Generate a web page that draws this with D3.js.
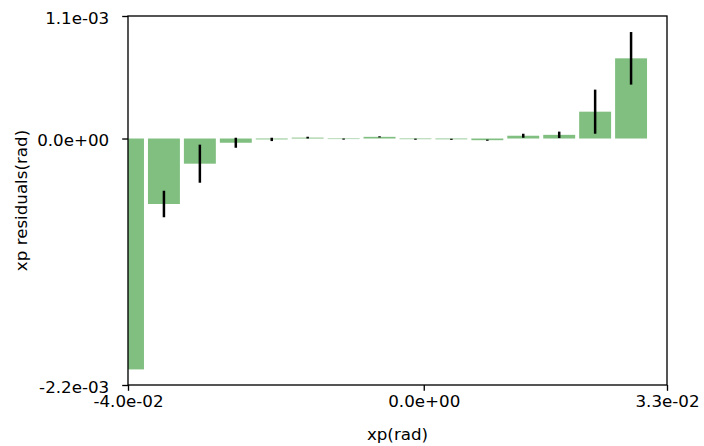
<!DOCTYPE html>
<html><head><meta charset="utf-8">
<script src="https://cdn.jsdelivr.net/npm/d3@7"></script>
<style>body{margin:0;background:#fff}svg{display:block}text{font-family:"DejaVu Sans",sans-serif;fill:#000}</style>
</head><body>
<svg id="c" width="704" height="446"></svg>
<script>
// bin centers (rad)
const xCenters = [-0.04000,-0.03514,-0.03028,-0.02542,-0.02056,-0.01570,-0.01084,-0.00598,-0.00112,0.00374,0.00860,0.01346,0.01832,0.02318,0.02804];
// residual means (rad)
const residuals = [-2.073e-3,-5.88e-4,-2.26e-4,-3.8e-5,-8e-6,8e-6,-5e-6,1.5e-5,-6e-6,-7e-6,-1.5e-5,2.5e-5,3.3e-5,2.41e-4,7.2e-4];
// error bar half-heights (rad)
const errors = [0,1.19e-4,1.71e-4,4.5e-5,1.5e-5,8e-6,5e-6,5e-6,5e-6,5e-6,5e-6,1.8e-5,2.9e-5,1.98e-4,2.36e-4];
const binWidth = 0.00432;
const xTicks = [-0.04, 0, 0.0329];
const yTicks = [-0.002213, 0, 0.0011];
const xDomain = [-0.04, 0.0329];
const yDomain = [-0.002213, 0.0011];

const L=128,R=667,T=16,B=385;
const svg=d3.select("#c");
const x=d3.scaleLinear().domain(xDomain).range([L,R]);
const y=d3.scaleLinear().domain(yDomain).range([B,T]);
const fmt=v=>{ if(v===0) return "0.0e+00"; const s=d3.format(".1e")(v).replace(/\u2212/g,"-"); return s.replace(/e([+-])(\d)$/,"e$10$2"); };
const fs=16.7;

svg.append("defs").append("clipPath").attr("id","pa").append("rect").attr("x",L).attr("y",T).attr("width",R-L).attr("height",B-T);
const g=svg.append("g").attr("clip-path","url(#pa)");
const data=xCenters.map((c,i)=>({c,v:residuals[i],e:errors[i]}));
g.selectAll("rect.bar").data(data).join("rect").attr("class","bar")
 .attr("x",d=>x(d.c-binWidth/2)).attr("width",d=>x(d.c+binWidth/2)-x(d.c-binWidth/2))
 .attr("y",d=>Math.min(y(0),y(d.v))).attr("height",d=>Math.abs(y(d.v)-y(0)))
 .attr("fill","rgb(128,191,128)");
g.selectAll("line.err").data(data.filter(d=>d.e>0)).join("line").attr("class","err")
 .attr("x1",d=>x(d.c)).attr("x2",d=>x(d.c)).attr("y1",d=>y(d.v-d.e)).attr("y2",d=>y(d.v+d.e))
 .attr("stroke","#000").attr("stroke-width",2.5);

const xAxis=svg.append("g").attr("transform",`translate(0,${B})`)
 .call(d3.axisBottom(x).tickValues(xTicks).tickFormat(fmt).tickSize(5.8).tickPadding(5.8));
const yAxis=svg.append("g").attr("transform",`translate(${L},0)`)
 .call(d3.axisLeft(y).tickValues(yTicks).tickFormat(fmt).tickSize(5.8).tickPadding(13));
[xAxis,yAxis].forEach(a=>{a.select(".domain").remove();a.selectAll("line").attr("stroke","#000").attr("stroke-width",1.33);a.selectAll("text").attr("font-size",fs).attr("font-family","DejaVu Sans");});
yAxis.selectAll("text").attr("dy","0.42em");
xAxis.selectAll("text").attr("dy","0.71em").attr("y",10);
svg.append("rect").attr("x",L).attr("y",T).attr("width",R-L).attr("height",B-T).attr("fill","none").attr("stroke","#000").attr("stroke-width",1.33);

svg.append("text").attr("x",(L+R)/2).attr("y",440).attr("text-anchor","middle").attr("font-size",fs).text("xp(rad)");
svg.append("text").attr("transform",`translate(27,${(T+B)/2}) rotate(-90)`).attr("text-anchor","middle").attr("font-size",fs).text("xp residuals(rad)");
</script>
</body></html>
